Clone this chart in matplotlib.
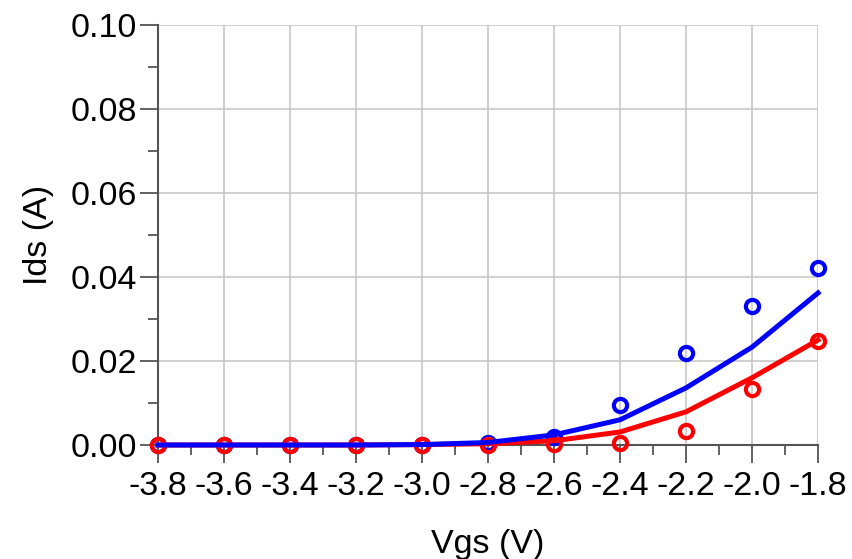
import matplotlib
matplotlib.use("Agg")
import matplotlib.pyplot as plt
from matplotlib.ticker import MultipleLocator, FormatStrFormatter

vgs = [-3.8, -3.6, -3.4, -3.2, -3.0, -2.8, -2.6, -2.4, -2.2, -2.0, -1.8]
meas_blue = [0.0, 0.0, 0.0, 0.0, 0.0, 0.0005, 0.0019, 0.0095, 0.0219, 0.0331, 0.0421]
meas_red = [0.0, 0.0, 0.0, 0.0, 0.0, 0.0, 0.0002, 0.0005, 0.0033, 0.0133, 0.0248]
model_blue = [0.0, 0.0, 0.0, 0.0, 0.0001, 0.0006, 0.0024, 0.0060, 0.0136, 0.0233, 0.0362]
model_red = [0.0, 0.0, 0.0, 0.0, 0.0001, 0.0003, 0.0010, 0.0031, 0.0079, 0.0160, 0.0250]

plt.rcParams['font.family'] = ['Liberation Sans', 'DejaVu Sans']

fig = plt.figure(figsize=(8.53, 5.59), dpi=100)
ax = fig.add_axes([158/853, 1-445/559, (818-158)/853, (445-25)/559])

ax.plot(vgs, meas_blue, 'o', mfc='none', mec='#0000ff', mew=3, ms=9.5, zorder=3, clip_on=False)
ax.plot(vgs, meas_red, 'o', mfc='none', mec='#ff0000', mew=3, ms=9.5, zorder=4, clip_on=False)
ax.plot(vgs, model_red, '-', color='#ff0000', lw=3.6, zorder=5, clip_on=False)
ax.plot(vgs, model_blue, '-', color='#0000ff', lw=3.6, zorder=6, clip_on=False)

ax.set_xlim(-3.8, -1.8)
ax.set_ylim(0.0, 0.10)
ax.xaxis.set_major_locator(MultipleLocator(0.2))
ax.xaxis.set_minor_locator(MultipleLocator(0.1))
ax.yaxis.set_major_locator(MultipleLocator(0.02))
ax.yaxis.set_minor_locator(MultipleLocator(0.01))
ax.xaxis.set_major_formatter(FormatStrFormatter('%.1f'))
ax.yaxis.set_major_formatter(FormatStrFormatter('%.2f'))

ax.grid(True, which='major', color='#c8c8c8', lw=1.2)
ax.set_axisbelow(True)
for s in ['top', 'right']:
    ax.spines[s].set_visible(False)
for s in ['left', 'bottom']:
    ax.spines[s].set_color('#555555')
    ax.spines[s].set_linewidth(1.5)

ax.tick_params(axis='both', which='major', direction='out', length=13, width=1.3,
               color='#555555', labelsize=24.5)
ax.tick_params(axis='both', which='minor', direction='out', length=7, width=1.3,
               color='#555555')
ax.tick_params(axis='x', which='major', pad=6)
ax.tick_params(axis='y', which='major', pad=2)

ax.set_xlabel('Vgs (V)', fontsize=24.5, labelpad=19)
ax.set_ylabel('Ids (A)', fontsize=24.5, labelpad=12)

fig.savefig('out.png', dpi=100)
